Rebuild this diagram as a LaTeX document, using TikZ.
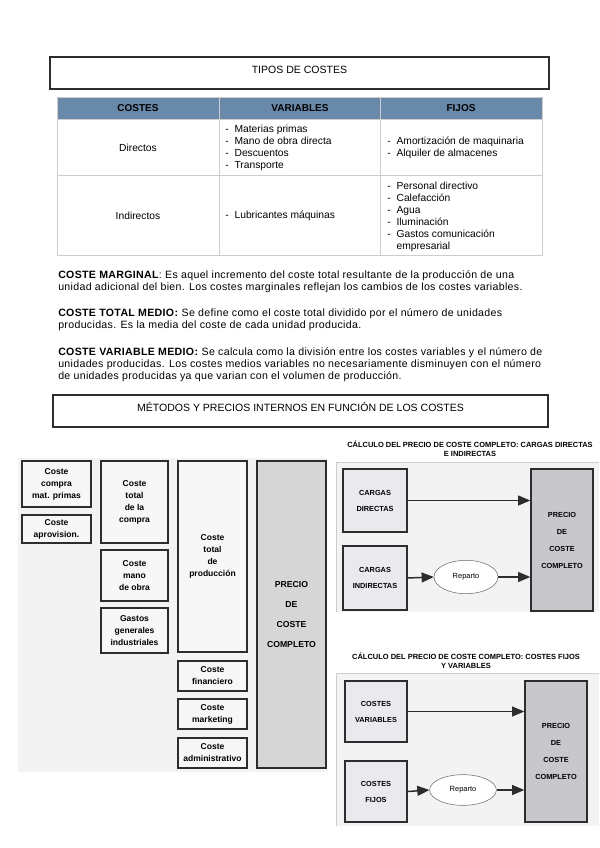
\documentclass[tikz,border=0pt]{standalone}
\usepackage{fontspec}
\setmainfont{Liberation Sans}
\newfontfamily\espaciado[LetterSpace=3]{Liberation Sans}
\usetikzlibrary{positioning,arrows,shapes,fit}

\definecolor{cabecera}{RGB}{104,137,170}
\definecolor{rejilla}{RGB}{205,205,205}
\definecolor{fondo}{RGB}{243,243,243}
\definecolor{borde}{RGB}{45,45,45}
\definecolor{gris}{RGB}{214,214,214}
\definecolor{grisclaro}{RGB}{234,234,238}
\definecolor{grisoscuro}{RGB}{200,200,204}

\newcommand{\guion}{\makebox[7pt][l]{-}}
\newcommand{\sangria}{\hspace*{7pt}}

\tikzset{
  titulo/.style={draw=borde, line width=0.9pt, inner sep=0pt},
  rotulo/.style={inner sep=0pt, font=\fontsize{7.9}{9}\selectfont},
  cabeza/.style={inner sep=0pt, font=\fontsize{7.5}{9}\selectfont\bfseries},
  celda/.style={inner sep=0pt, align=left, font=\fontsize{7.7}{9}\selectfont},
  parrafo/.style={inner sep=0pt, align=left, anchor=north west, font=\espaciado\fontsize{7.95}{9}\selectfont},
  caja/.style={draw=borde, line width=1.1pt, fill=white!97!black, inner sep=0pt},
  etq/.style={inner sep=0pt, align=center, font=\fontsize{6.4}{9}\selectfont\bfseries},
  precio/.style={caja, fill=gris},
  etqPrecio/.style={etq, font=\fontsize{6.5}{15}\selectfont\bfseries},
  calc/.style={inner sep=0pt, align=center, font=\fontsize{5.6}{7}\selectfont\bfseries},
  cajaR/.style={draw=borde, line width=0.9pt, fill=grisclaro, inner sep=0pt},
  etqR/.style={etq, font=\fontsize{5.5}{12}\selectfont\bfseries},
  precioR/.style={cajaR, line width=1.1pt, fill=grisoscuro},
  etqPrecioR/.style={etq, font=\fontsize{5.5}{12.75}\selectfont\bfseries},
  reparto/.style={ellipse, draw=borde!70, fill=white, inner sep=0pt, font=\fontsize{5.6}{7}\selectfont},
  flecha/.style={-triangle 45, line width=1.1pt, draw=borde}
}

\begin{document}
\begin{tikzpicture}[x=0.75pt, y=-0.75pt]
  \useasboundingbox (0,0) rectangle (599,848);

  % tipos de costes
  \node[titulo, fit={(50,57) (549,89)}] (tipos) {};
  \node[rotulo] (tiposT) at ([yshift=2pt]tipos.center) {TIPOS DE COSTES};

  \fill[cabecera] (57,97) rectangle (542,119);
  \foreach \y in {119,175} \draw[rejilla] (57,\y) -- (542,\y);
  \foreach \x in {219,380} \draw[rejilla] (\x,97) -- (\x,255);
  \draw[rejilla] (57,97) rectangle (542,255);

  \node[cabeza] (hCostes) at (138,108) {COSTES};
  \node[cabeza] (hVariables) at (300,108) {VARIABLES};
  \node[cabeza] (hFijos) at (461,108) {FIJOS};

  \node[celda] (directos) at (138,148) {Directos};
  \node[celda] (indirectos) at (138,216) {Indirectos};
  \node[celda, anchor=west] (dirVar) at (225,148)
    {\guion Materias primas\\ \guion Mano de obra directa\\ \guion Descuentos\\ \guion Transporte};
  \node[celda, anchor=west] (dirFijos) at (387,148)
    {\guion Amortización de maquinaria\\ \guion Alquiler de almacenes};
  \node[celda, anchor=west] (indVar) at (225,216) {\guion Lubricantes máquinas};
  \node[celda, anchor=west] (indFijos) at (387,217)
    {\guion Personal directivo\\ \guion Calefacción\\ \guion Agua\\ \guion Iluminación\\
     \guion Gastos comunicación\\ \sangria empresarial};

  % definiciones
  \node[parrafo] (marginal) at (58,270.5)
    {\textbf{COSTE MARGINAL}: Es aquel incremento del coste total resultante de la producción de una\\
     unidad adicional del bien. Los costes marginales reflejan los cambios de los costes variables.};
  \node[parrafo] (totalMedio) at (58,308.5)
    {\textbf{COSTE TOTAL MEDIO:} Se define como el coste total dividido por el número de unidades\\
     producidas. Es la media del coste de cada unidad producida.};
  \node[parrafo] (varMedio) at (58,347.5)
    {\textbf{COSTE VARIABLE MEDIO:} Se calcula como la división entre los costes variables y el número de\\
     unidades producidas. Los costes medios variables no necesariamente disminuyen con el número\\
     de unidades producidas ya que varian con el volumen de producción.};

  \node[titulo, fit={(53,395) (548,427)}] (metodos) {};
  \node[rotulo] (metodosT) at ([yshift=3pt]metodos.center) {MÉTODOS Y PRECIOS INTERNOS EN FUNCIÓN DE LOS COSTES};

  % esquema del coste completo
  \fill[fondo] (18,458) rectangle (327,772);
  \node[caja, fit={(22,461) (91,507)}] (compra) {};
  \node[caja, fit={(22,515) (91,543)}] (aprov) {};
  \node[caja, fit={(101,461) (168,543)}] (totalCompra) {};
  \node[caja, fit={(101,550) (168,601)}] (manoObra) {};
  \node[caja, fit={(101,608) (168,653)}] (gastos) {};
  \node[caja, fit={(178,461) (247,652)}] (produccion) {};
  \node[caja, fit={(178,661) (247,691)}] (financiero) {};
  \node[caja, fit={(178,699) (247,729)}] (marketing) {};
  \node[caja, fit={(178,738) (247,768)}] (admin) {};
  \node[precio, fit={(257,461) (326,768)}] (precio0) {};

  \node[etq] (compraT) at (compra) {Coste\\ compra\\ mat. primas};
  \node[etq] (aprovT) at (aprov) {Coste\\ aprovision.};
  \node[etq] (totalCompraT) at (totalCompra) {Coste\\ total\\ de la\\ compra};
  \node[etq] (manoObraT) at (manoObra) {Coste\\ mano\\ de obra};
  \node[etq] (gastosT) at (gastos) {Gastos\\ generales\\ industriales};
  \node[etq] (produccionT) at (produccion) {Coste\\ total\\ de\\ producción};
  \node[etq] (financieroT) at (financiero) {Coste\\ financiero};
  \node[etq] (marketingT) at (marketing) {Coste\\ marketing};
  \node[etq] (adminT) at (admin) {Coste\\ administrativo};
  \node[etqPrecio] (precio0T) at (precio0) {PRECIO\\ DE\\ COSTE\\ COMPLETO};

  % cargas directas e indirectas
  \fill[fondo] (336,462) rectangle (599,612);
  \draw[rejilla] (599,462) -- (336,462) -- (336,612);
  \node[calc] (calc1) at (470,449) {CÁLCULO DEL PRECIO DE COSTE COMPLETO: CARGAS DIRECTAS\\ E INDIRECTAS};
  \node[cajaR, fit={(343,469) (407,532)}] (cdir) {};
  \node[cajaR, fit={(343,546) (407,610)}] (cind) {};
  \node[reparto, minimum width=48pt, minimum height=25pt] (rep1) at (466,577) {Reparto};
  \node[precioR, fit={(531,469) (593,611)}] (precio1) {};
  \node[etqR] (cdirT) at (cdir) {CARGAS\\ DIRECTAS};
  \node[etqR] (cindT) at (cind) {CARGAS\\ INDIRECTAS};
  \node[etqPrecioR] (precio1T) at (precio1) {PRECIO\\ DE\\ COSTE\\ COMPLETO};
  \draw[flecha] (cdir.east) -- (cdir.east -| precio1.west);
  \draw[flecha] (cind.east) -- (rep1.west);
  \draw[flecha] (rep1.east) -- (rep1.east -| precio1.west);

  % costes fijos y variables
  \fill[fondo] (336,673) rectangle (599,826);
  \draw[rejilla] (599,673) -- (336,673) -- (336,826);
  \node[calc] (calc2) at (466,661) {CÁLCULO DEL PRECIO DE COSTE COMPLETO: COSTES FIJOS\\ Y VARIABLES};
  \node[cajaR, fit={(345,681) (407,742)}] (cvar) {};
  \node[cajaR, fit={(345,761) (407,822)}] (cfij) {};
  \node[reparto, minimum width=50pt, minimum height=23pt] (rep2) at (463,790) {Reparto};
  \node[precioR, fit={(525,681) (587,822)}] (precio2) {};
  \node[etqR] (cvarT) at (cvar) {COSTES\\ VARIABLES};
  \node[etqR] (cfijT) at (cfij) {COSTES\\ FIJOS};
  \node[etqPrecioR] (precio2T) at (precio2) {PRECIO\\ DE\\ COSTE\\ COMPLETO};
  \draw[flecha] (cvar.east) -- (cvar.east -| precio2.west);
  \draw[flecha] (cfij.east) -- (rep2.west);
  \draw[flecha] (rep2.east) -- (rep2.east -| precio2.west);
\end{tikzpicture}
\end{document}
